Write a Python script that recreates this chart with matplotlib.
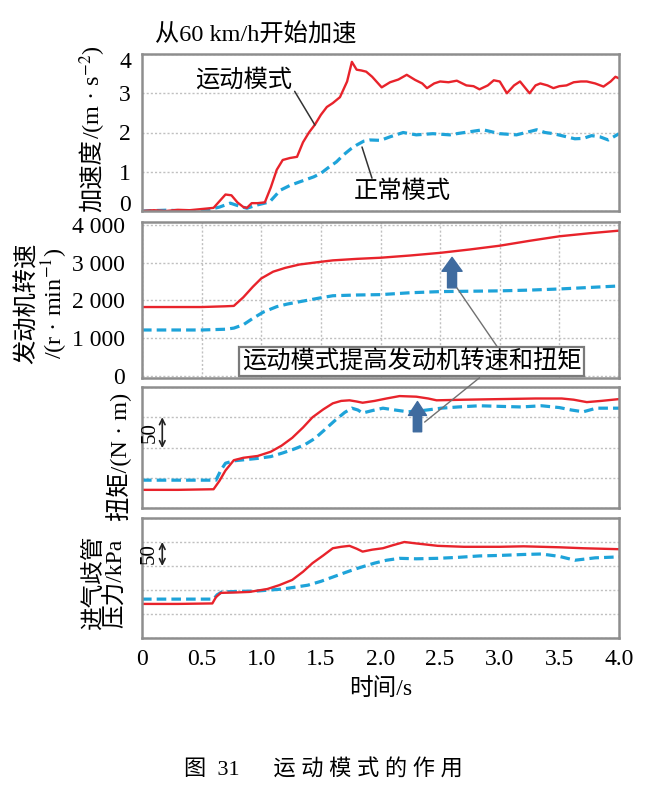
import matplotlib
matplotlib.use('Agg')
import matplotlib.pyplot as plt
import matplotlib.transforms as mtrans
from matplotlib.patches import ConnectionPatch

plt.rcParams['font.family'] = ['Liberation Serif', 'Noto Sans CJK SC']
plt.rcParams['mathtext.fontset'] = 'stix'

# ---- data (time in s) ----
# acceleration, m/s^2
acc_sport_t = [0, 0.1, 0.2, 0.3, 0.4, 0.5, 0.6, 0.65, 0.7, 0.75, 0.8, 0.85, 0.88, 0.92, 0.97,
               1.03, 1.08, 1.13, 1.18, 1.24, 1.3, 1.35, 1.4, 1.45, 1.5, 1.55, 1.6, 1.66, 1.72, 1.76,
               1.8, 1.84, 1.88, 1.93, 2.01, 2.08, 2.15, 2.22, 2.29, 2.35, 2.39, 2.45, 2.5, 2.57, 2.64,
               2.72, 2.78, 2.83, 2.9, 2.95, 3.0, 3.06, 3.12, 3.17, 3.21, 3.25, 3.3, 3.34, 3.4, 3.45,
               3.5, 3.56, 3.62, 3.68, 3.73, 3.8, 3.87, 3.93, 3.97, 4.0]
acc_sport = [0, 0.02, 0, 0.03, 0.02, 0.05, 0.08, 0.25, 0.42, 0.4, 0.22, 0.1, 0.08, 0.2, 0.2,
             0.22, 0.6, 1.05, 1.3, 1.35, 1.38, 1.75, 2.0, 2.2, 2.45, 2.65, 2.75, 2.9, 3.3, 3.8,
             3.6, 3.58, 3.55, 3.42, 3.15, 3.28, 3.35, 3.47, 3.34, 3.25, 3.13, 3.25, 3.3, 3.28, 3.32,
             3.2, 3.18, 3.1, 3.2, 3.33, 3.3, 3.0, 3.2, 3.3, 3.15, 3.0, 3.2, 3.25, 3.2, 3.13,
             3.18, 3.2, 3.28, 3.3, 3.3, 3.25, 3.17, 3.3, 3.42, 3.38]
acc_normal_t = [0, 0.2, 0.4, 0.55, 0.65, 0.74, 0.82, 0.88, 0.96, 1.07, 1.16, 1.24, 1.32, 1.44, 1.5,
                1.56, 1.63, 1.69, 1.75, 1.8, 1.86, 1.91, 2.0, 2.08, 2.19, 2.3, 2.44, 2.58, 2.66, 2.75,
                2.86, 3.0, 3.14, 3.22, 3.31, 3.38, 3.45, 3.56, 3.63, 3.7, 3.77, 3.84, 3.91, 4.0]
acc_normal = [0, 0.02, 0, 0.03, 0.1, 0.2, 0.12, 0.07, 0.15, 0.23, 0.53, 0.65, 0.74, 0.87, 0.96,
              1.1, 1.25, 1.43, 1.58, 1.68, 1.78, 1.81, 1.8, 1.89, 2.0, 1.94, 1.97, 1.94, 1.98, 2.02,
              2.07, 1.97, 1.94, 2.0, 2.07, 2.0, 1.97, 1.89, 1.84, 1.85, 1.92, 1.89, 1.81, 1.97]

# engine speed, r/min
rpm_t = [0, 0.5, 0.7, 0.77, 0.85, 0.93, 1.0, 1.1, 1.2, 1.32, 1.52, 1.6, 1.8, 2.0, 2.25, 2.5,
         2.75, 3.0, 3.25, 3.5, 3.75, 4.0]
rpm_sport = [1820, 1820, 1840, 1850, 2080, 2360, 2580, 2760, 2860, 2950, 3030, 3060, 3100, 3130,
             3190, 3260, 3350, 3450, 3580, 3700, 3780, 3850]
rpm_normal_t = [0, 0.5, 0.7, 0.77, 0.85, 0.93, 1.02, 1.13, 1.22, 1.32, 1.49, 1.6, 1.8, 2.0, 2.25,
                2.5, 2.75, 3.0, 3.25, 3.5, 3.75, 4.0]
rpm_normal = [1210, 1210, 1230, 1260, 1350, 1520, 1690, 1830, 1900, 1960, 2060, 2120, 2140, 2150,
              2200, 2230, 2240, 2250, 2270, 2300, 2340, 2380]

# torque (relative scale, 50 N.m per grid step)
trq_sport_t = [0, 0.3, 0.6, 0.65, 0.7, 0.77, 0.85, 0.97, 1.08, 1.17, 1.26, 1.35, 1.43, 1.52, 1.6,
               1.67, 1.74, 1.8, 1.85, 1.95, 2.05, 2.16, 2.3, 2.4, 2.47, 2.7, 3.0, 3.3, 3.52, 3.62,
               3.73, 3.85, 4.0]
trq_sport = [30, 30, 31, 45, 62, 79, 83, 86, 93, 103, 116, 133, 150, 163, 173,
             177, 178, 176, 174, 177, 181, 185, 184, 181, 178, 179, 180, 181, 181, 179,
             175, 177, 180]
trq_normal_t = [0, 0.3, 0.62, 0.66, 0.7, 0.77, 0.97, 1.08, 1.18, 1.27, 1.36, 1.45, 1.53, 1.62,
                1.7, 1.76, 1.81, 1.85, 1.93, 2.02, 2.12, 2.23, 2.35, 2.51, 2.65, 2.83, 3.0, 3.18,
                3.35, 3.5, 3.6, 3.7, 3.81, 4.0]
trq_normal = [46, 46, 46, 62, 74, 78, 82, 85, 91, 97, 104, 115, 129, 145,
              158, 165, 162, 157, 161, 165, 162, 159, 161, 165, 167, 169, 168, 167,
              169, 166, 162, 159, 165, 165]

# intake manifold pressure (relative scale, 50 kPa per grid step)
map_sport_t = [0, 0.3, 0.59, 0.62, 0.66, 0.8, 0.9, 1.05, 1.15, 1.26, 1.35, 1.43, 1.52, 1.6, 1.67,
               1.74, 1.8, 1.85, 1.93, 2.02, 2.1, 2.2, 2.3, 2.48, 2.7, 3.0, 3.2, 3.35, 3.5, 3.7,
               3.85, 4.0]
map_sport = [71, 71, 72, 85, 94, 95, 96, 102, 110, 121, 138, 156, 172, 187, 190,
             192, 186, 180, 184, 187, 193, 200, 197, 192, 190, 190, 191, 190, 189, 187,
             186, 185]
map_normal_t = [0, 0.3, 0.6, 0.63, 0.67, 0.8, 0.97, 1.18, 1.39, 1.5, 1.6, 1.7, 1.78, 1.87, 1.95,
                2.05, 2.16, 2.3, 2.48, 2.65, 2.83, 3.0, 3.2, 3.35, 3.5, 3.63, 3.8, 4.0]
map_normal = [81, 81, 81, 90, 96, 97, 98, 102, 110, 118, 127, 136, 143, 150, 156,
              162, 166, 165, 166, 168, 171, 172, 174, 175, 170, 162, 167, 169]

x_ticks = [0, 0.5, 1.0, 1.5, 2.0, 2.5, 3.0, 3.5, 4.0]
x_tick_labels = ['0', '0.5', '1.0', '1.5', '2.0', '2.5', '3.0', '3.5', '4.0']
acc_ticks = [0, 1, 2, 3, 4]
rpm_ticks = [0, 1000, 2000, 3000, 4000]
rpm_tick_labels = ['0', '1 000', '2 000', '3 000', '4 000']

RED = '#e8232b'
BLUE = '#1ea3d9'
ARROW = '#3f6b9f'
FRAME = '#8e8e8e'
GRID = '#c0c0c0'
W, H = 653, 797
LAB = 17.5


def fx(px):
    return px / W


def fy(py):
    return 1 - py / H


def panel(top, bottom):
    return fig.add_axes([fx(142), fy(bottom), (619 - 142) / W, (bottom - top) / H])


def style(ax, every_half=False):
    ax.set_xlim(0, 4)
    ax.set_xticks(x_ticks)
    ax.set_xticks([1, 2, 3], minor=True)
    ax.tick_params(which='both', length=0, labelsize=17)
    for s in ax.spines.values():
        s.set_color(FRAME)
        s.set_linewidth(1.8)
    gw = 'major' if every_half else 'minor'
    ax.grid(True, axis='x', which=gw, color=GRID, linestyle=(0, (1.5, 1.5)), linewidth=1)
    ax.grid(True, axis='y', which='major', color=GRID, linestyle=(0, (1.5, 1.5)), linewidth=1)
    ax.set_axisbelow(True)


def curves(ax, ts, ys, tn, yn):
    ax.plot(tn, yn, color=BLUE, lw=2.3, linestyle=(0, (3.0, 1.6)))
    ax.plot(ts, ys, color=RED, lw=1.7)


def nudge(label, dy_px):
    # shift one tick label vertically by a few pixels
    label.set_transform(label.get_transform() +
                        mtrans.ScaledTranslation(0, dy_px / 100, fig.dpi_scale_trans))


fig = plt.figure(figsize=(W / 100, H / 100), dpi=100)

# --- acceleration ---
ax1 = panel(54, 211)
style(ax1)
curves(ax1, acc_sport_t, acc_sport, acc_normal_t, acc_normal)
ax1.set_ylim(0, 4)
ax1.set_yticks(acc_ticks)
ax1.set_xticklabels([])
ax1.tick_params(axis='y', pad=8)
yt1 = ax1.yaxis.get_major_ticks()
nudge(yt1[0].label1, 8)
nudge(yt1[-1].label1, -6)
ax1.annotate('运动模式', xy=(1.45, 2.19), xytext=(0.85, 3.34), fontsize=LAB,
             ha='center', va='center',
             arrowprops=dict(arrowstyle='-', color='#333333', lw=1.1, relpos=(1.0, 0.2),
                             shrinkA=0, shrinkB=0))
ax1.annotate('正常模式', xy=(1.845, 1.63), xytext=(2.18, 0.48), fontsize=LAB,
             ha='center', va='center',
             arrowprops=dict(arrowstyle='-', color='#333333', lw=1.1, relpos=(0.2, 1.0),
                             shrinkA=0, shrinkB=0))

# --- engine speed ---
ax2 = panel(222, 378)
style(ax2, every_half=True)
curves(ax2, rpm_t, rpm_sport, rpm_normal_t, rpm_normal)
ax2.set_ylim(-66, 4080)
ax2.set_yticks(rpm_ticks)
ax2.set_yticklabels(rpm_tick_labels)
ax2.set_xticklabels([])
ax2.tick_params(axis='y', pad=12)
ax2.annotate('', xy=(2.6, 3140), xytext=(2.6, 2330),
             arrowprops=dict(arrowstyle='simple,head_length=1.0,head_width=1.45,tail_width=0.65',
                             color=ARROW, shrinkA=0, shrinkB=0, mutation_scale=10))
ax2.text(2.26, 373, '运动模式提高发动机转速和扭矩', fontsize=LAB, ha='center', va='center',
         bbox=dict(boxstyle='square,pad=0.1', fc='white', ec='#7a7a7a', lw=1.6), zorder=5)

# --- torque ---
ax3 = panel(387, 508)
style(ax3)
curves(ax3, trq_sport_t, trq_sport, trq_normal_t, trq_normal)
ax3.set_ylim(0, 200)
ax3.set_yticks([0, 50, 100, 150, 200])
ax3.set_yticklabels([])
ax3.set_xticklabels([])
ax3.annotate('', xy=(2.31, 176), xytext=(2.31, 126),
             arrowprops=dict(arrowstyle='simple,head_length=1.0,head_width=1.3,tail_width=0.6',
                             color=ARROW, shrinkA=0, shrinkB=0, mutation_scale=10))
ax3.annotate('', xy=(0.17, 150), xytext=(0.17, 99),
             arrowprops=dict(arrowstyle='<->', color='#222222', lw=1.2, shrinkA=0, shrinkB=0))
ax3.text(0.07, 125, '50', fontsize=15, rotation=90, ha='center', va='center')

# --- intake pressure ---
ax4 = panel(518, 638)
style(ax4)
curves(ax4, map_sport_t, map_sport, map_normal_t, map_normal)
ax4.set_ylim(0, 250)
ax4.set_yticks([0, 50, 100, 150, 200, 250])
ax4.set_yticklabels([])
ax4.set_xticklabels(x_tick_labels)
ax4.tick_params(axis='x', pad=8)
ax4.set_xlabel('时间/s', fontsize=17, labelpad=6)
ax4.annotate('', xy=(0.17, 200), xytext=(0.17, 150),
             arrowprops=dict(arrowstyle='<->', color='#222222', lw=1.2, shrinkA=0, shrinkB=0))
ax4.text(0.06, 176, '50', fontsize=15, rotation=90, ha='center', va='center')

# leader lines from the note box to the two arrows
con1 = ConnectionPatch(xyA=(2.64, 2333), coordsA=ax2.transData,
                       xyB=(2.98, 760), coordsB=ax2.transData, color='#707070', lw=1.0)
fig.add_artist(con1)
con2 = ConnectionPatch(xyA=(2.83, -60), coordsA=ax2.transData,
                       xyB=(2.37, 142), coordsB=ax3.transData, color='#707070', lw=1.0)
fig.add_artist(con2)

# axis titles
fig.text(fx(155), fy(35), '从60 km/h开始加速', fontsize=LAB, ha='left', va='center')

# the acceleration label mixes CJK and mathtext, so it is built from two pieces
lab_a = fig.text(fx(92), fy(212), '加速度', fontsize=LAB, rotation=90, ha='center', va='bottom')
fig.canvas.draw()
bb = lab_a.get_window_extent()
fig.text(fx(93), bb.y1 / H, '/(m · s$^{-2}$)', fontsize=LAB, rotation=90,
         ha='center', va='bottom')

fig.text(fx(43), fy(303), '发动机转速\n/(r · min$^{-1}$)', fontsize=LAB, rotation=90,
         ha='center', va='center', multialignment='center', linespacing=1.0)
fig.text(fx(119), fy(457), '扭矩/(N · m)', fontsize=LAB, rotation=90, ha='center', va='center')
fig.text(fx(105), fy(583), '进气歧管\n压力/kPa', fontsize=17, rotation=90,
         ha='center', va='center', multialignment='center', linespacing=1.0)

fig.text(fx(323), fy(770), '图  31      运 动 模 式 的 作 用', fontsize=16,
         ha='center', va='center')

fig.savefig('out.png', dpi=100)
